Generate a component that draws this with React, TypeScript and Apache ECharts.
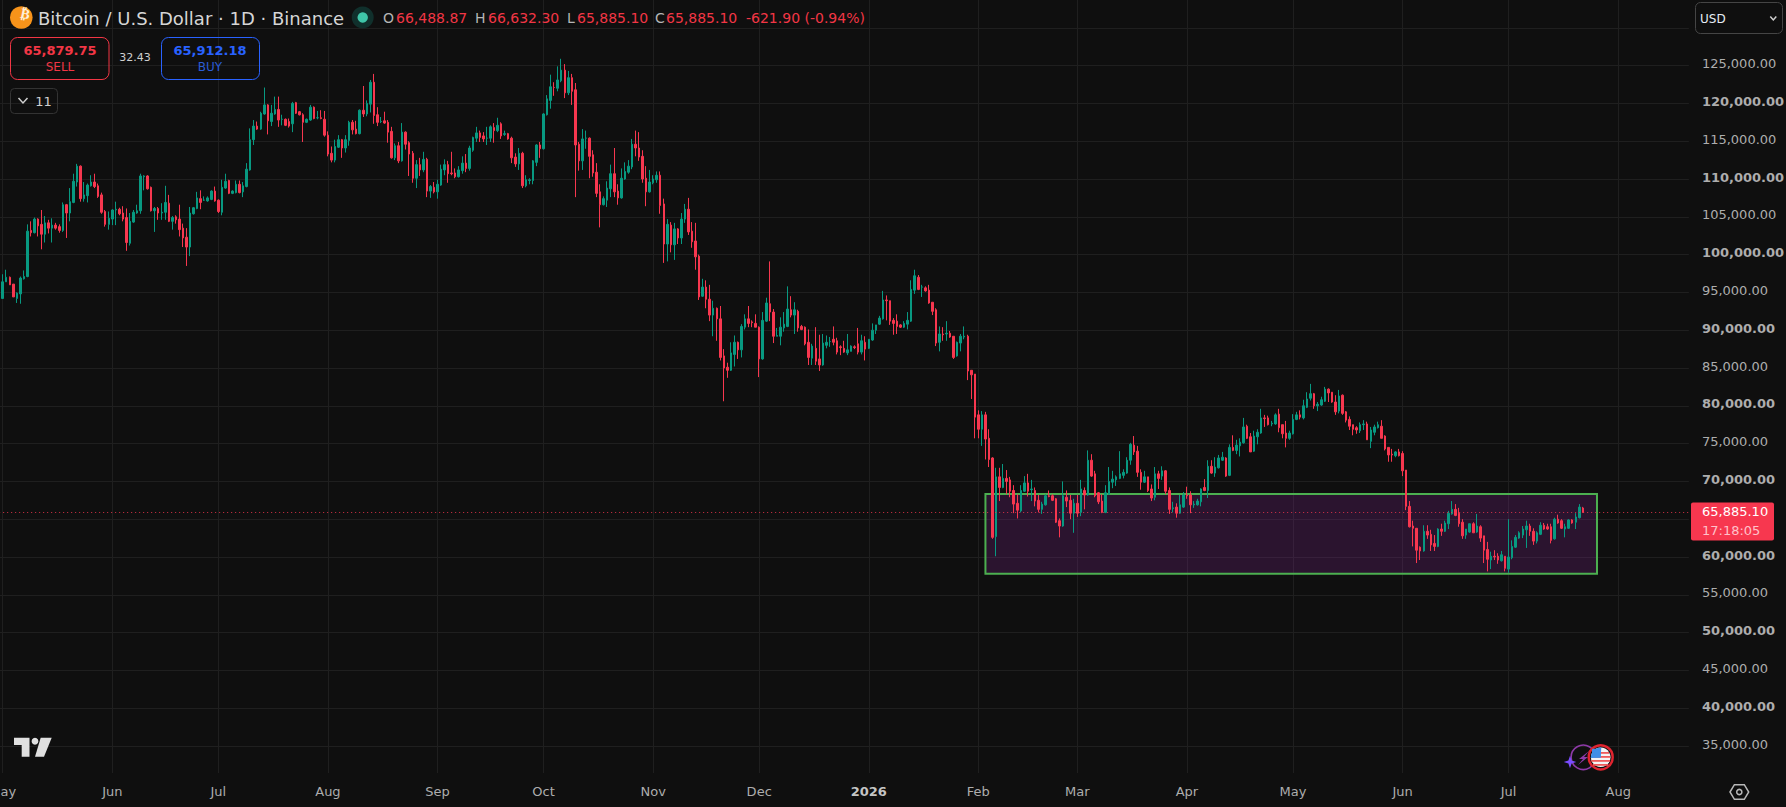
import React, { useEffect, useRef } from "react";
import * as echarts from "echarts";

// Daily candles, one list per month: [open, close, low, high] in hundreds of USD
const may2025 = [[942,964,942,974],[964,970,964,980],[970,960,960,971],[961,944,944,961],[942,949,936,950],[948,969,935,971],[968,971,967,979],[971,1031,970,1040],[1032,1029,1024,1044],[1029,1047,1028,1049],[1047,1038,1024,1048],[1040,1027,1007,1059],[1027,1042,1016,1051],[1042,1035,1028,1046],[1035,1039,1016,1048],[1039,1035,1033,1042],[1037,1032,1029,1040],[1032,1066,1030,1069],[1066,1055,1022,1067],[1055,1070,1044,1088],[1069,1097,1068,1107],[1096,1117,1090,1120],[1117,1074,1070,1118],[1074,1079,1070,1096],[1078,1092,1069,1094],[1091,1096,1090,1105],[1096,1090,1088,1107],[1091,1077,1075,1094],[1079,1056,1054,1082],[1057,1040,1037,1059],[1040,1048,1033,1057]];
const jun2025 = [[1047,1059,1039,1060],[1059,1060,1039,1070],[1060,1054,1052,1062],[1055,1047,1044,1064],[1049,1016,1005,1061],[1015,1044,1012,1055],[1043,1056,1042,1059],[1055,1058,1054,1066],[1058,1104,1054,1107],[1103,1104,1085,1105],[1104,1087,1086,1105],[1089,1058,1057,1090],[1058,1061,1030,1063],[1061,1055,1046,1063],[1055,1056,1046,1068],[1056,1069,1046,1091],[1068,1044,1043,1079],[1044,1049,1033,1051],[1050,1046,1041,1052],[1047,1033,1024,1066],[1035,1022,1010,1041],[1023,1010,985,1035],[1010,1055,998,1063],[1054,1062,1053,1063],[1061,1075,1060,1083],[1074,1069,1060,1085],[1072,1072,1071,1077],[1071,1075,1070,1077],[1073,1084,1072,1085],[1084,1071,1070,1090]];
const jul2025 = [[1072,1057,1055,1073],[1056,1089,1052,1099],[1088,1097,1087,1107],[1098,1081,1080,1099],[1081,1084,1080,1085],[1082,1093,1081,1098],[1093,1082,1081,1098],[1083,1091,1076,1096],[1090,1113,1089,1121],[1112,1152,1111,1167],[1152,1170,1145,1178],[1170,1166,1165,1176],[1166,1187,1165,1189],[1186,1198,1185,1221],[1198,1177,1159,1199],[1176,1187,1170,1198],[1186,1192,1185,1209],[1192,1178,1169,1209],[1179,1179,1171,1185],[1179,1171,1170,1180],[1176,1170,1168,1180],[1173,1200,1162,1202],[1201,1187,1186,1202],[1189,1185,1184,1190],[1185,1175,1149,1187],[1175,1179,1174,1180],[1178,1195,1177,1198],[1195,1180,1179,1196],[1181,1181,1179,1190],[1181,1180,1179,1191],[1179,1158,1156,1190]];
const aug2025 = [[1158,1133,1130,1163],[1134,1125,1122,1143],[1125,1143,1122,1152],[1142,1152,1141,1158],[1152,1141,1128,1153],[1141,1152,1135,1158],[1151,1175,1144,1177],[1175,1165,1159,1178],[1166,1160,1159,1177],[1160,1191,1159,1192],[1191,1186,1182,1223],[1186,1200,1183,1204],[1199,1228,1188,1231],[1228,1184,1173,1239],[1185,1175,1170,1195],[1176,1176,1174,1182],[1177,1174,1173,1189],[1175,1162,1148,1178],[1163,1128,1127,1169],[1128,1144,1125,1147],[1144,1124,1121,1149],[1124,1162,1123,1174],[1162,1146,1139,1163],[1148,1133,1104,1150],[1134,1101,1095,1137],[1101,1119,1088,1125],[1119,1112,1104,1128],[1112,1126,1109,1136],[1126,1084,1076,1128],[1084,1090,1075,1092],[1089,1083,1081,1096]];
const sep2025 = [[1083,1093,1074,1099],[1092,1113,1091,1119],[1112,1119,1105,1126],[1119,1107,1095,1124],[1108,1107,1105,1136],[1108,1103,1101,1114],[1103,1112,1102,1117],[1111,1121,1107,1130],[1121,1114,1109,1133],[1114,1141,1111,1144],[1138,1155,1136,1156],[1154,1161,1149,1169],[1161,1155,1149,1164],[1157,1153,1149,1162],[1154,1154,1145,1169],[1154,1169,1149,1171],[1168,1164,1148,1174],[1164,1171,1162,1181],[1173,1157,1153,1175],[1159,1160,1157,1164],[1160,1153,1152,1161],[1154,1128,1121,1156],[1129,1120,1116,1134],[1120,1134,1112,1141],[1134,1091,1088,1136],[1091,1099,1089,1105],[1098,1099,1093,1101],[1098,1124,1093,1125],[1122,1145,1117,1146],[1145,1140,1128,1149]];
const oct2025 = [[1140,1186,1139,1187],[1185,1206,1184,1211],[1204,1222,1193,1238],[1221,1221,1210,1228],[1220,1231,1216,1249],[1230,1244,1228,1259],[1244,1214,1207,1252],[1214,1234,1211,1243],[1234,1216,1198,1239],[1218,1145,1076,1227],[1146,1124,1111,1149],[1124,1153,1112,1166],[1154,1154,1140,1164],[1154,1130,1101,1155],[1132,1108,1103,1138],[1109,1081,1076,1121],[1083,1066,1036,1093],[1066,1074,1065,1077],[1072,1088,1063,1097],[1087,1107,1076,1119],[1107,1083,1076,1141],[1084,1075,1066,1093],[1075,1101,1074,1114],[1100,1110,1099,1122],[1109,1117,1107,1125],[1116,1146,1113,1153],[1146,1141,1130,1164],[1141,1129,1124,1162],[1130,1100,1095,1138],[1101,1083,1064,1117],[1083,1096,1082,1112]];
const nov2025 = [[1095,1100,1093,1105],[1099,1105,1095,1110],[1105,1065,1054,1110],[1067,1014,989,1074],[1014,1040,991,1047],[1039,1013,1003,1043],[1013,1034,993,1042],[1034,1022,1014,1035],[1022,1047,1014,1055],[1047,1060,1042,1067],[1060,1030,1026,1075],[1031,1017,1009,1043],[1018,997,980,1042],[998,944,940,1000],[945,957,944,968],[957,941,929,966],[941,920,912,960],[920,929,892,939],[929,915,886,930],[915,864,860,932],[866,850,806,875],[851,847,837,857],[847,870,846,884],[868,884,852,893],[884,874,862,885],[874,905,864,908],[904,915,901,921],[915,909,904,932],[911,910,904,913],[909,904,904,921]];
const dec2025 = [[904,862,838,905],[862,913,861,924],[912,936,911,943],[935,924,912,991],[924,892,883,928],[892,893,892,903],[892,904,880,917],[903,908,898,924],[905,928,904,958],[927,920,917,945],[920,927,895,937],[925,903,898,927],[905,901,900,907],[904,882,880,905],[884,864,854,901],[863,879,854,882],[876,859,854,904],[862,854,846,894],[854,883,853,895],[880,884,876,893],[885,885,878,891],[888,884,880,905],[886,871,868,890],[878,877,867,880],[876,871,870,886],[870,874,867,895],[872,879,872,880],[878,877,875,880],[882,871,868,903],[871,886,868,894],[884,875,860,892]];
const jan2026 = [[876,888,875,888],[887,900,886,909],[900,907,895,907],[908,916,907,919],[915,940,914,952],[940,939,913,946],[939,912,907,939],[913,909,894,916],[912,905,895,921],[907,904,903,908],[904,909,903,912],[908,913,901,924],[912,954,911,966],[953,972,948,980],[970,954,953,973],[957,957,944,960],[956,952,951,958],[953,936,935,960],[937,925,920,937],[927,883,879,929],[884,895,872,905],[895,894,886,904],[895,896,886,912],[896,891,890,899],[892,864,862,892],[866,884,865,885],[883,892,872,895],[891,892,888,905],[892,846,834,894],[847,841,809,847],[842,785,757,842]];
const feb2026 = [[788,769,757,794],[769,788,747,793],[788,756,729,792],[757,729,719,769],[731,626,624,732],[627,706,601,718],[706,692,674,718],[692,704,691,723],[704,700,683,715],[702,687,679,706],[688,670,658,695],[671,662,651,683],[661,688,659,695],[687,698,686,707],[698,687,680,710],[689,690,674,702],[688,674,667,692],[675,663,659,682],[663,670,657,673],[669,681,668,683],[681,680,679,688],[681,675,674,683],[677,646,645,678],[648,641,626,651],[641,681,640,700],[679,674,666,688],[675,658,650,682],[658,671,632,677]];
const mar2026 = [[671,658,653,682],[659,690,654,702],[688,682,663,692],[682,728,681,741],[728,707,706,736],[710,681,679,714],[685,673,670,686],[674,659,658,683],[659,685,658,695],[683,700,682,719],[699,703,691,714],[702,706,694,708],[704,710,703,740],[708,712,704,716],[711,728,710,732],[728,749,722,751],[748,739,735,760],[740,712,706,747],[712,699,689,716],[699,706,698,714],[706,688,686,706],[690,678,674,696],[679,710,675,719],[710,704,690,714],[707,714,702,720],[714,687,683,715],[688,663,657,692],[664,665,659,673],[666,658,652,671],[658,669,657,682],[666,682,665,686]];
const apr2026 = [[682,681,677,693],[682,669,658,687],[669,670,665,674],[669,674,668,677],[673,690,667,691],[692,688,687,703],[688,720,678,728],[720,711,710,728],[711,719,706,732],[718,731,717,735],[728,732,727,739],[731,707,706,732],[708,745,707,749],[745,741,740,761],[741,748,736,755],[747,752,733,757],[751,772,750,784],[773,757,756,775],[759,739,739,764],[740,760,739,767],[759,765,749,769],[764,784,763,796],[784,783,772,788],[784,775,774,787],[776,777,773,780],[776,788,775,790],[789,771,765,796],[775,763,757,775],[764,757,745,780],[757,764,755,767]];
const may2026 = [[763,782,762,789],[782,788,781,792],[788,785,782,794],[784,800,782,808],[798,809,797,818],[810,816,807,829],[816,800,796,817],[800,802,793,805],[801,808,800,812],[806,822,805,825],[822,817,805,823],[818,805,804,818],[805,792,788,814],[793,813,790,821],[814,790,788,815],[792,781,778,793],[782,773,768,786],[775,769,761,775],[771,768,763,773],[767,775,764,778],[775,776,768,781],[776,755,755,779],[753,768,744,772],[765,772,761,775],[771,775,770,779],[773,757,757,781],[760,743,741,761],[745,735,726,745],[736,735,726,743],[734,739,732,740],[739,734,733,743]];
const jun2026 = [[737,714,707,740],[715,667,662,715],[667,640,639,674],[641,638,614,648],[638,609,592,638],[613,608,596,614],[608,634,607,642],[634,629,624,642],[630,616,608,636],[618,614,608,629],[614,637,613,638],[637,634,628,644],[634,645,633,648],[644,658,637,661],[657,663,656,674],[663,655,654,670],[658,644,640,665],[646,628,624,650],[629,637,624,637],[633,644,632,644],[644,632,632,646],[633,641,632,657],[640,625,620,642],[628,609,592,628],[610,597,581,620],[596,601,584,607],[601,600,596,609],[601,596,591,605],[595,603,594,608],[601,585,581,601]];
const jul2026 = [[584,600,579,650],[599,614,597,622],[613,626,612,629],[625,632,624,634],[629,637,625,641],[636,641,612,648],[641,634,628,644],[634,621,616,638],[621,632,618,634],[630,642,629,646],[642,637,636,645],[640,637,636,644],[640,622,618,644],[624,650,623,652],[650,645,644,656],[648,638,637,650],[637,640,626,644],[638,649,637,650],[649,645,644,650],[646,653,637,658],[652,666,651,670],[664.8887,658.851,658.851,666.323]];

const priceUnit = 100;
const months = [may2025, jun2025, jul2025, aug2025, sep2025, oct2025, nov2025, dec2025, jan2026, feb2026, mar2026, apr2026, may2026, jun2026, jul2026];
const firstDay = Date.UTC(2025, 3, 30);
const dayCount = 479;
const monthNames = ["Jan", "Feb", "Mar", "Apr", "May", "Jun", "Jul", "Aug", "Sep", "Oct", "Nov", "Dec"];

const lastPrice = 65885.1;
const boxTop = 68323;
const boxBottom = 57779;
const boxStart = "2026-02-03";
const boxEnd = "2026-07-26";

const header = {
  title: "Bitcoin / U.S. Dollar · 1D · Binance",
  open: "66,488.87", high: "66,632.30", low: "65,885.10", close: "65,885.10",
  change: "-621.90 (-0.94%)",
  sell: "65,879.75", buy: "65,912.18", spread: "32.43", count: "11",
  currency: "USD", priceLabel: "65,885.10", countdown: "17:18:05",
};

const BG = "#0f0f0f";
const GRID = "#1f1f1f";
const UP = "#089981";
const DOWN = "#f7374f";
const AXIS_TEXT = "#adadad";
const FONT = '"DejaVu Sans"';

const iso = (i: number) => new Date(firstDay + i * 86400000).toISOString().slice(0, 10);
const categories = Array.from({ length: dayCount }, (_, i) => iso(i));
const rows: any[] = [["-", "-", "-", "-"], ...months.flat().map((r) => r.map((v) => v * priceUnit))];

function txt(text: string, x: number, y: number, fill: string, size: number, extra: any = {}) {
  const { weight = "normal", align = "left" } = extra;
  return {
    type: "text", x, y, z2: 20, silent: true,
    style: { text, fill, font: `${weight} ${size}px ${FONT}`, textAlign: align, textVerticalAlign: "middle", align, verticalAlign: "middle" },
  };
}
function box(x: number, y: number, w: number, h: number, stroke: string, r: number, fill = "transparent", lw = 1) {
  return { type: "rect", z2: 20, silent: true, shape: { x, y, width: w, height: h, r }, style: { fill, stroke, lineWidth: lw } };
}
function chevron(cx: number, cy: number, hw: number, hh: number, stroke: string, lw = 1.5) {
  return { type: "polyline", z2: 20, silent: true, shape: { points: [[cx - hw, cy - hh], [cx, cy + hh], [cx + hw, cy - hh]] }, style: { stroke, fill: "none", lineWidth: lw } };
}
function poly(points: number[][], fill: string, stroke?: string, lw = 1) {
  return { type: "polygon", z2: 20, silent: true, shape: { points }, style: { fill, stroke, lineWidth: lw } };
}
function circle(cx: number, cy: number, r: number, fill: string, stroke?: string, lw = 1) {
  return { type: "circle", z2: 20, silent: true, shape: { cx, cy, r }, style: { fill, stroke, lineWidth: lw } };
}
function bar(x: number, y: number, w: number, h: number, fill: string) {
  return { type: "rect", z2: 21, silent: true, shape: { x, y, width: w, height: h }, style: { fill } };
}

function graphics() {
  const g = "#b5b5b5";
  const red = "#f23645";
  const blue = "#2962ff";
  return [
    // covers the part of the plot that lies under the time axis
    { type: "rect", z2: 5, silent: true, shape: { x: 0, y: 773, width: 1690, height: 34 }, style: { fill: BG } },
    circle(21.3, 17.5, 11.3, "#f7931a"),
    { ...txt("₿", 21.3, 17.5, "#fdf0dc", 14, { weight: "bold", align: "center" }), rotation: -0.2, originX: 21.3, originY: 17.5 },
    txt(header.title, 38, 18.3, "#d6d6d6", 18),
    circle(362.7, 17.5, 11, "#10302c"),
    circle(362.7, 17.5, 5.2, "#3fc5a8"),
    txt("O", 383, 18, g, 14), txt(header.open, 396, 18, red, 14),
    txt("H", 475, 18, g, 14), txt(header.high, 488, 18, red, 14),
    txt("L", 567, 18, g, 14), txt(header.low, 577, 18, red, 14),
    txt("C", 655, 18, g, 14), txt(header.close, 666, 18, red, 14),
    txt(header.change, 746, 18, red, 14),
    box(10.5, 37.5, 98.5, 42, red, 7),
    txt(header.sell, 60, 50, red, 13, { weight: "bold", align: "center" }),
    txt("SELL", 60, 67, red, 12, { align: "center" }),
    txt(header.spread, 135, 57.5, "#d0d0d0", 11, { align: "center" }),
    box(161.5, 37.5, 98, 42, blue, 7),
    txt(header.buy, 210, 50, blue, 13, { weight: "bold", align: "center" }),
    txt("BUY", 210, 67, "#2a5cd6", 12, { align: "center" }),
    box(10.5, 88.5, 47, 25, "#333333", 4),
    chevron(23, 100.5, 4.5, 2.5, "#cfcfcf"),
    txt(header.count, 43.5, 101, "#cfcfcf", 13, { align: "center" }),
    box(1695.5, 2.5, 87, 31, "#454545", 5),
    txt(header.currency, 1700, 18.5, "#e6edf5", 12),
    chevron(1773.3, 18.2, 3, 1.7, "#cfcfcf"),
    box(1691, 502.5, 83, 38, DOWN, 2, DOWN, 0),
    txt(header.priceLabel, 1702, 511.7, "#ffffff", 13),
    txt(header.countdown, 1702, 530, "#ffc2ca", 13),
    // TradingView mark
    poly([[14, 737.7], [29.5, 737.7], [29.5, 756.7], [21.7, 756.7], [21.7, 745], [14, 745]], "#e0e0e0"),
    circle(35, 741.3, 3.4, "#e0e0e0"),
    poly([[40.7, 737.7], [51.7, 737.7], [44, 756.7], [35, 756.7]], "#e0e0e0"),
    // settings hexagon
    poly([[1730, 792], [1734.4, 784.7], [1744.3, 784.7], [1748.7, 792], [1744.3, 799.3], [1734.4, 799.3]], "transparent", "#b8b8b8", 1.5),
    circle(1739.3, 792, 2.6, "transparent", "#b8b8b8", 1.5),
    // sparkle, bolt and flag badges
    circle(1583.3, 757.3, 12.2, "transparent", "#8e3aa8", 1.6),
    poly([[1589, 751], [1579, 759], [1583, 759], [1578, 765], [1588, 757], [1584, 757]], "#8e3aa8"),
    poly([[1570, 755.7], [1571.6, 760.4], [1576.3, 762], [1571.6, 763.6], [1570, 768.3], [1568.4, 763.6], [1563.7, 762], [1568.4, 760.4]], "#7a4dff"),
    circle(1600.7, 757.3, 12, BG, "#e0242f", 2.4),
    circle(1600.7, 757.3, 9.8, "#f4f4f4"),
    bar(1592.4, 752, 16.6, 1.8, "#ef5a5a"),
    bar(1591.3, 756, 18.8, 1.8, "#ef5a5a"),
    bar(1591.3, 760, 18.8, 1.8, "#ef5a5a"),
    bar(1593, 764, 15.4, 1.8, "#ef5a5a"),
    { type: "sector", z2: 22, silent: true, shape: { cx: 1600.7, cy: 757.3, r: 9.8, r0: 0, startAngle: Math.PI * 0.98, endAngle: Math.PI * 1.52 }, style: { fill: "#3f8fe8" } },
    bar(1592, 748.8, 8.7, 9, "#3f8fe8"),
  ];
}

export default function App() {
  const ref = useRef<HTMLDivElement>(null);
  useEffect(() => {
    const chart = echarts.init(ref.current!, undefined, { renderer: "svg" });
    const monthFirst = (_: number, v: string) => v.endsWith("-01");
    chart.setOption({
      animation: false,
      backgroundColor: BG,
      textStyle: { fontFamily: FONT },
      grid: { left: -0.83, top: -10, width: 478 * 3.535, height: 793.8, containLabel: false, outerBoundsMode: "none" },
      xAxis: {
        type: "category",
        data: categories,
        boundaryGap: false,
        silent: true,
        axisLine: { show: false },
        axisTick: { show: false },
        splitLine: { show: true, interval: monthFirst, lineStyle: { color: GRID, width: 1 } },
        axisLabel: {
          interval: monthFirst,
          margin: 1,
          color: AXIS_TEXT,
          fontFamily: FONT,
          fontSize: 13,
          hideOverlap: false,
          formatter: (v: string) => {
            const [y, m] = v.split("-");
            return m === "01" ? `{b|${y}}` : monthNames[Number(m) - 1];
          },
          rich: { b: { fontFamily: FONT, fontSize: 13, fontWeight: "bold", color: "#c4c4c4" } },
        },
      },
      yAxis: {
        type: "value",
        position: "right",
        min: 30000,
        max: 135000,
        interval: 5000,
        silent: true,
        axisLine: { show: false },
        axisTick: { show: false },
        splitLine: { show: true, showMinLine: false, showMaxLine: false, lineStyle: { color: GRID, width: 1 } },
        axisLabel: {
          margin: 13,
          align: "left",
          color: AXIS_TEXT,
          padding: [0, 0, 4, 0],
          formatter: (v: number) => {
            if (v < 35000 || v > 125000) return "";
            const t = v.toLocaleString("en-US", { minimumFractionDigits: 2, maximumFractionDigits: 2 });
            return v % 10000 === 0 ? `{b|${t}}` : `{n|${t}}`;
          },
          rich: {
            n: { fontFamily: FONT, fontSize: 13, color: AXIS_TEXT },
            b: { fontFamily: FONT, fontSize: 13, fontWeight: "bold", color: AXIS_TEXT },
          },
        },
      },
      series: [
        {
          type: "candlestick",
          data: rows,
          barWidth: 2,
          silent: true,
          clip: false,
          itemStyle: { color: UP, color0: DOWN, borderColor: UP, borderColor0: DOWN, borderWidth: 1 },
          markArea: {
            silent: true,
            itemStyle: { color: "rgba(156,39,176,0.2)", borderColor: "#4caf50", borderWidth: 2 },
            label: { show: false },
            data: [[{ xAxis: boxStart, yAxis: boxTop }, { xAxis: boxEnd, yAxis: boxBottom }]],
          },
          markLine: {
            silent: true,
            symbol: "none",
            label: { show: false },
            lineStyle: { color: DOWN, type: [1, 3], width: 1, opacity: 0.85 },
            data: [{ yAxis: lastPrice }],
          },
        },
      ],
      graphic: { elements: graphics() },
    });
    return () => chart.dispose();
  }, []);
  return <div ref={ref} style={{ position: "fixed", left: 0, top: 0, width: 1786, height: 807 }} />;
}
